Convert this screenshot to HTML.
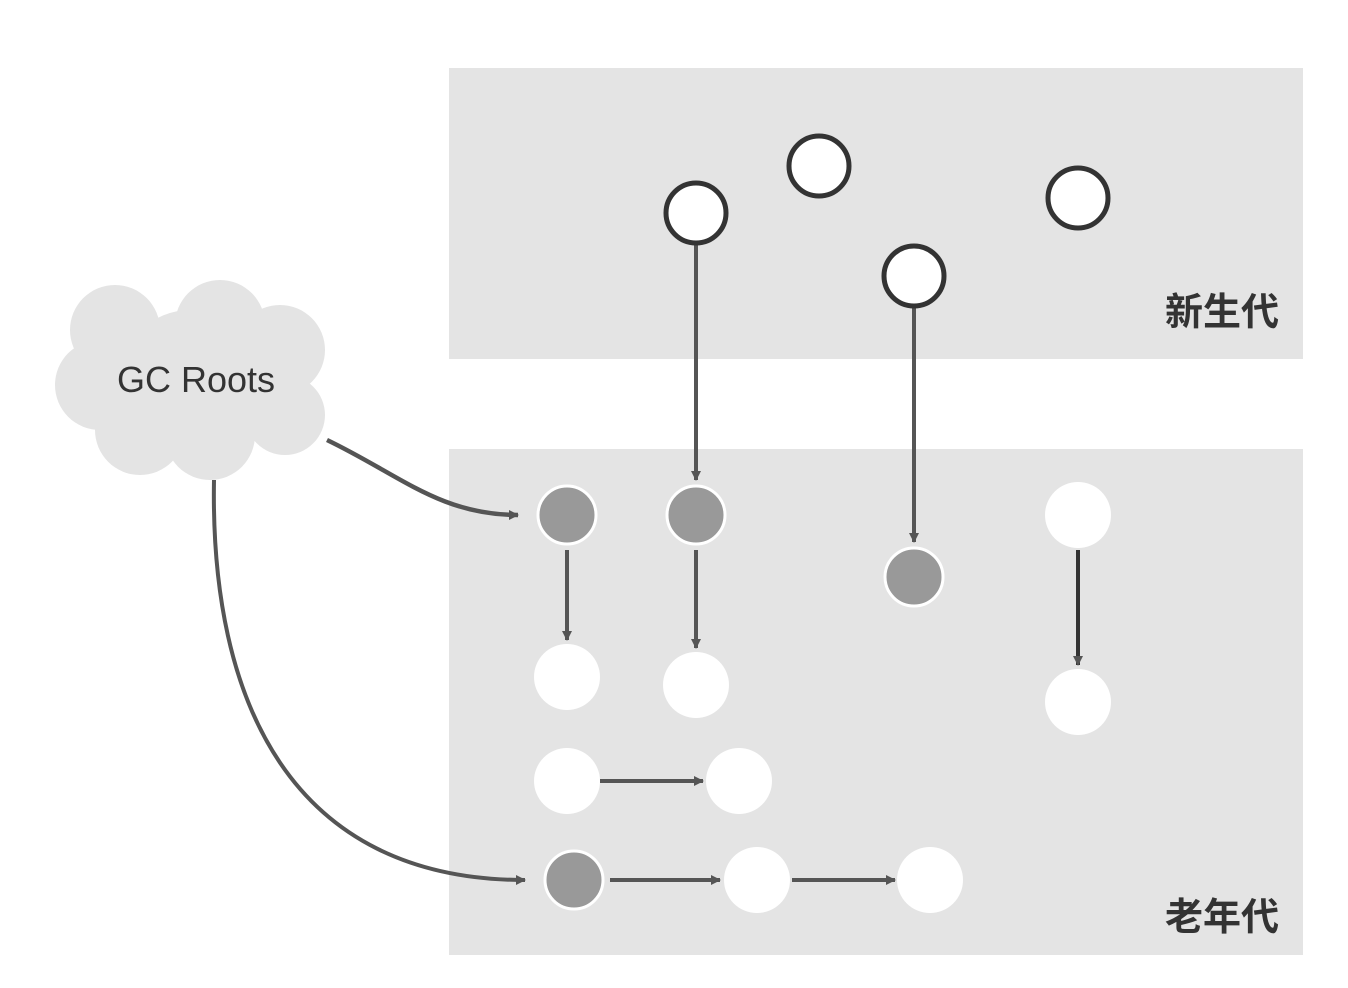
<!DOCTYPE html>
<html><head><meta charset="utf-8"><style>
html,body{margin:0;padding:0;background:#fff;}
svg{display:block;}
</style></head><body>
<svg width="1348" height="988" xmlns="http://www.w3.org/2000/svg">
<defs>
<marker id="a" markerWidth="10" markerHeight="10" refX="9" refY="5" orient="auto" markerUnits="userSpaceOnUse" viewBox="0 0 10 10">
<path d="M0,0 L10,5 L0,10 z" fill="#555"/></marker>
</defs>
<rect x="449" y="68" width="854" height="291" fill="#e4e4e4"/>
<rect x="449" y="449" width="854" height="506" fill="#e4e4e4"/>
<!-- cloud -->
<g fill="#e4e4e4">
<circle cx="115" cy="330" r="45"/><circle cx="220" cy="325" r="45"/><circle cx="280" cy="350" r="45"/>
<circle cx="100" cy="385" r="45"/><circle cx="285" cy="415" r="40"/><circle cx="140" cy="430" r="45"/>
<circle cx="210" cy="435" r="45"/><circle cx="190" cy="380" r="70"/>
</g>
<text x="196" y="392" font-family="Liberation Sans, sans-serif" font-size="36" fill="#333" text-anchor="middle">GC Roots</text>
<g font-family="Liberation Sans, 'Noto Sans CJK SC', sans-serif" font-size="38" font-weight="bold" fill="#333">
<text x="1165" y="325">新生代</text>
<text x="1165" y="930">老年代</text>
</g>
<g stroke="#555" stroke-width="4" fill="none">
<path d="M327,440 C400,475 440,515 518,515" marker-end="url(#a)" stroke-width="4.5"/>
<path d="M214,480 C210,700 290,880 525,880" marker-end="url(#a)"/>
<path d="M696,245 L696,480" marker-end="url(#a)"/>
<path d="M914,308 L914,542" marker-end="url(#a)"/>
<path d="M567,550 L567,640" marker-end="url(#a)"/>
<path d="M696,550 L696,648" marker-end="url(#a)"/>
<path d="M1078,550 L1078,665" marker-end="url(#a)" stroke="#333"/>
<path d="M600,781 L703,781" marker-end="url(#a)"/>
<path d="M610,880 L720,880" marker-end="url(#a)"/>
<path d="M792,880 L895,880" marker-end="url(#a)"/>
</g>
<g fill="#fff" stroke="#333" stroke-width="5">
<circle cx="696" cy="213" r="30"/><circle cx="819" cy="166" r="30"/>
<circle cx="1078" cy="198" r="30"/><circle cx="914" cy="276" r="30"/>
</g>
<g fill="#999" stroke="#fff" stroke-width="3">
<circle cx="567" cy="515" r="29"/><circle cx="696" cy="515" r="29"/>
<circle cx="914" cy="577" r="29"/><circle cx="574" cy="880" r="29"/>
</g>
<g fill="#fff">
<circle cx="1078" cy="515" r="33"/><circle cx="567" cy="677" r="33"/><circle cx="696" cy="685" r="33"/>
<circle cx="1078" cy="702" r="33"/><circle cx="567" cy="781" r="33"/><circle cx="739" cy="781" r="33"/>
<circle cx="757" cy="880" r="33"/><circle cx="930" cy="880" r="33"/>
</g>
</svg>
</body></html>
